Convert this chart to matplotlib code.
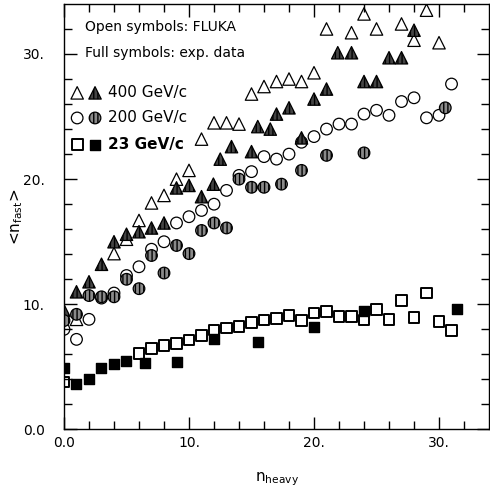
# <n_fast> vs n_heavy: FLUKA (open) vs exp. data (full) at 400, 200, 23 GeV/c
import matplotlib
matplotlib.use("Agg")
import matplotlib.pyplot as plt

# 400 GeV/c
x400_fluka = [1, 4, 5, 6, 7, 8, 9, 10, 11, 12, 13, 14, 15, 16, 17, 18, 19, 20,
              21, 23, 24, 25, 27, 28, 29, 30]
y400_fluka = [8.8, 14.05, 15.2, 16.7, 18.1, 18.7, 20.0, 20.7, 23.2, 24.5, 24.5,
              24.4, 26.8, 27.4, 27.8, 28.0, 27.8, 28.5, 32.0, 31.7, 33.2, 32.0,
              32.4, 31.1, 33.5, 30.9]
x400_exp = [0, 1, 2, 3, 4, 5, 6, 7, 8, 9, 10, 11, 11.95, 12.5, 13.4, 15, 15.5,
            16.5, 17, 18, 19, 20, 21, 21.9, 23, 24, 25, 26, 27, 28]
y400_exp = [9.5, 11.0, 11.8, 13.2, 15.0, 15.6, 15.8, 16.1, 16.5, 19.3, 19.5,
            18.6, 19.6, 21.6, 22.6, 22.2, 24.2, 24.0, 25.2, 25.7, 23.3, 26.4,
            27.2, 30.1, 30.1, 27.8, 27.8, 29.7, 29.7, 31.9]

# 200 GeV/c
x200_fluka = list(range(32))
y200_fluka = [8.0, 7.2, 8.8, 10.5, 10.9, 12.3, 13.0, 14.4, 15.0, 16.5, 17.0,
              17.5, 18.0, 19.1, 20.3, 20.6, 21.8, 21.6, 22.0, 22.95, 23.4, 24.0,
              24.4, 24.4, 25.2, 25.5, 25.1, 26.2, 26.5, 24.9, 25.1, 27.6]
x200_exp = [0, 1, 2, 3, 4, 5, 6, 7, 8, 9, 10, 11, 12, 13, 14, 15, 16, 17.4,
            19, 21, 24, 30.5]
y200_exp = [8.7, 9.2, 10.7, 10.6, 10.6, 12.0, 11.25, 13.9, 12.5, 14.7, 14.05,
            15.9, 16.5, 16.1, 20.0, 19.35, 19.35, 19.6, 20.7, 21.9, 22.1, 25.7]

# 23 GeV/c
x23_fluka = [0, 6, 7, 8, 9, 10, 11, 12, 13, 14, 15, 16, 17, 18, 19, 20, 21,
             22, 23, 24, 25, 26, 27, 28, 29, 30, 31]
y23_fluka = [3.8, 6.05, 6.45, 6.7, 6.85, 7.15, 7.5, 7.95, 8.1, 8.2, 8.55, 8.75,
             8.85, 9.1, 8.7, 9.3, 9.4, 9.0, 9.0, 8.75, 9.6, 8.8, 10.3, 8.96,
             10.9, 8.6, 7.9]
x23_exp = [0, 1, 2, 3, 4, 5, 6.5, 9, 12, 15.5, 20, 24, 31.4]
y23_exp = [4.9, 3.6, 4.05, 4.9, 5.2, 5.45, 5.3, 5.4, 7.2, 7.0, 8.2, 9.5, 9.6]

xticks = [0, 10, 20, 30]
xticklabels = ["0.0", "10.", "20.", "30."]
yticks = [0, 10, 20, 30]
yticklabels = ["0.0", "10.", "20.", "30."]

fig = plt.figure(figsize=(4.9, 4.9), dpi=100)
ax = fig.add_axes([0.1306, 0.1235, 0.8674, 0.8685])

tri_open = dict(marker="^", s=80, facecolors="none", edgecolors="black", linewidths=0.9)
cir_open = dict(marker="o", s=70, facecolors="none", edgecolors="black", linewidths=0.9)
sq_open = dict(marker="s", s=60, facecolors="none", edgecolors="black", linewidths=1.4)
tri_full = dict(marker="^", s=80, facecolors="#444444", edgecolors="black",
                linewidths=0.9, hatch="||||")
cir_full = dict(marker="o", s=70, facecolors="#8a8a8a", edgecolors="black",
                linewidths=0.9, hatch="||||")
sq_full = dict(marker="s", s=60, facecolors="black", edgecolors="black",
               linewidths=1.0)

ax.scatter(x400_fluka, y400_fluka, zorder=3, **tri_open)
ax.scatter(x200_fluka, y200_fluka, zorder=3, **cir_open)
ax.scatter(x23_fluka, y23_fluka, zorder=3, **sq_open)
ax.scatter(x400_exp, y400_exp, zorder=4, **tri_full)
ax.scatter(x200_exp, y200_exp, zorder=4, **cir_full)
ax.scatter(x23_exp, y23_exp, zorder=4, **sq_full)

ax.set_xlim(0, 34)
ax.set_ylim(0, 34)
ax.set_xticks(xticks)
ax.set_xticklabels(xticklabels)
ax.set_yticks(yticks)
ax.set_yticklabels(yticklabels)
ax.set_xticks(range(0, 34, 2), minor=True)
ax.set_yticks(range(0, 34, 2), minor=True)
ax.tick_params(which="both", direction="in", top=True, right=True, labelsize=10)
ax.tick_params(which="major", length=9, width=1.0)
ax.tick_params(which="minor", length=6, width=1.0)
ax.tick_params(axis="x", pad=5)
ax.tick_params(axis="y", pad=14)
for sp in ax.spines.values():
    sp.set_linewidth(1.0)

ax.set_xlabel(r"$\mathregular{n_{heavy}}$", fontsize=11)
ax.xaxis.set_label_coords(0.5, -0.095)
ax.set_ylabel(r"<$\mathregular{n_{fast}}$>", fontsize=11)
ax.yaxis.set_label_coords(-0.092, 0.5)

# legend text block
ax.text(0.05, 0.946, "Open symbols: FLUKA", transform=ax.transAxes,
        fontsize=10, va="center")
ax.text(0.05, 0.885, "Full symbols: exp. data", transform=ax.transAxes,
        fontsize=10, va="center")
rows = [(0.791, "400 GeV/c", tri_open, tri_full, "normal"),
        (0.732, "200 GeV/c", cir_open, cir_full, "normal"),
        (0.669, "23 GeV/c", sq_open, sq_full, "bold")]
for yy, lab, op, fu, w in rows:
    ax.scatter([0.031], [yy], transform=ax.transAxes, clip_on=False, zorder=5, **op)
    ax.scatter([0.073], [yy], transform=ax.transAxes, clip_on=False, zorder=5, **fu)
    ax.text(0.104, yy, lab, transform=ax.transAxes, fontsize=11, va="center",
            fontweight=w)

fig.savefig("out.png", dpi=100)
